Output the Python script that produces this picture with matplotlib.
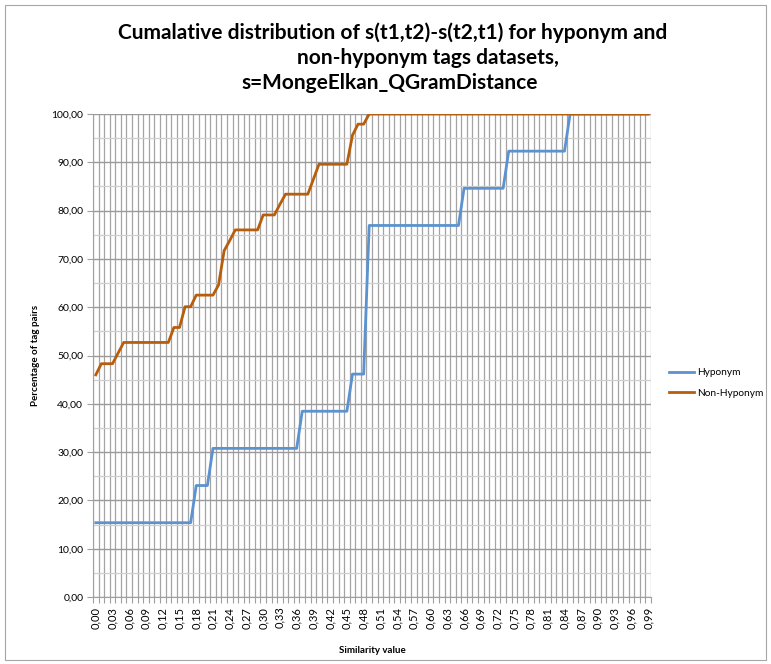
import matplotlib.pyplot as plt
from matplotlib.patches import Rectangle

plt.rcParams['font.family'] = ['Lato', 'DejaVu Sans']

# similarity categories 0,00 .. 0,99
similarity = [f"{i / 100:.2f}".replace('.', ',') for i in range(100)]

hyponym = [
    15.38, 15.38, 15.38, 15.38, 15.38, 15.38, 15.38, 15.38, 15.38, 15.38,
    15.38, 15.38, 15.38, 15.38, 15.38, 15.38, 15.38, 15.38, 23.08, 23.08,
    23.08, 30.77, 30.77, 30.77, 30.77, 30.77, 30.77, 30.77, 30.77, 30.77,
    30.77, 30.77, 30.77, 30.77, 30.77, 30.77, 30.77, 38.46, 38.46, 38.46,
    38.46, 38.46, 38.46, 38.46, 38.46, 38.46, 46.15, 46.15, 46.15, 76.92,
    76.92, 76.92, 76.92, 76.92, 76.92, 76.92, 76.92, 76.92, 76.92, 76.92,
    76.92, 76.92, 76.92, 76.92, 76.92, 76.92, 84.62, 84.62, 84.62, 84.62,
    84.62, 84.62, 84.62, 84.62, 92.31, 92.31, 92.31, 92.31, 92.31, 92.31,
    92.31, 92.31, 92.31, 92.31, 92.31, 100.0, 100.0, 100.0, 100.0, 100.0,
    100.0, 100.0, 100.0, 100.0, 100.0, 100.0, 100.0, 100.0, 100.0, 100.0,
]

non_hyponym = [
    46.0, 48.3, 48.3, 48.3, 50.5, 52.7, 52.7, 52.7, 52.7, 52.7,
    52.7, 52.7, 52.7, 52.7, 55.8, 55.8, 60.1, 60.1, 62.5, 62.5,
    62.5, 62.5, 64.6, 71.7, 73.8, 76.0, 76.0, 76.0, 76.0, 76.0,
    79.1, 79.1, 79.1, 81.3, 83.4, 83.4, 83.4, 83.4, 83.4, 86.5,
    89.6, 89.6, 89.6, 89.6, 89.6, 89.6, 95.6, 97.9, 97.9, 100.0,
    100.0, 100.0, 100.0, 100.0, 100.0, 100.0, 100.0, 100.0, 100.0, 100.0,
    100.0, 100.0, 100.0, 100.0, 100.0, 100.0, 100.0, 100.0, 100.0, 100.0,
    100.0, 100.0, 100.0, 100.0, 100.0, 100.0, 100.0, 100.0, 100.0, 100.0,
    100.0, 100.0, 100.0, 100.0, 100.0, 100.0, 100.0, 100.0, 100.0, 100.0,
    100.0, 100.0, 100.0, 100.0, 100.0, 100.0, 100.0, 100.0, 100.0, 100.0,
]

y_ticks = [0, 10, 20, 30, 40, 50, 60, 70, 80, 90, 100]

fig = plt.figure(figsize=(7.71, 6.64), dpi=100)
fig.patches.append(Rectangle((0.006, 0.006), 0.988, 0.986, transform=fig.transFigure,
                             fill=False, edgecolor='#a6a6a6', linewidth=0.8))

ax = fig.add_axes([93 / 771, 67 / 664, 558 / 771, 483 / 664])
x = list(range(len(similarity)))

# grid: one vertical line per category boundary, 10s major and 5s minor horizontally
for b in range(len(similarity) + 1):
    ax.axvline(b - 0.5, color='#a4a4a4', linewidth=0.9, zorder=0)
for v in range(5, 100, 10):
    ax.axhline(v, color='#cfcfcf', linewidth=0.9, zorder=0)
for v in y_ticks:
    ax.axhline(v, color='#9a9a9a', linewidth=1.0, zorder=0)

ax.plot(x, hyponym, color='#5b92cf', linewidth=2.0, label='Hyponym', zorder=3)
ax.plot(x, non_hyponym, color='#b75d0b', linewidth=2.0, label='Non-Hyponym', zorder=3)

ax.set_xlim(-0.5, len(similarity) - 0.5)
ax.set_ylim(0, 100)
ax.set_yticks(y_ticks)
ax.set_yticklabels([f"{v:.2f}".replace('.', ',') for v in y_ticks], fontsize=7.5)
ax.set_xticks(x[::3])
ax.set_xticklabels(similarity[::3], rotation=90, fontsize=8)
ax.set_xticks([b - 0.5 for b in range(len(similarity) + 1)], minor=True)
ax.tick_params(axis='x', which='major', length=0, pad=7)
ax.tick_params(axis='x', which='minor', length=4, color='#a0a0a0', width=0.8)
ax.tick_params(axis='y', length=4, color='#a0a0a0', width=0.8, pad=3)
for side in ['top', 'right']:
    ax.spines[side].set_visible(False)
ax.spines['left'].set_color('#a0a0a0')
ax.spines['bottom'].set_color('#a0a0a0')

ax.set_xlabel('Similarity value', fontsize=7, fontweight='bold', labelpad=12)
ax.set_ylabel('Percentage of tag pairs', fontsize=7, fontweight='bold', labelpad=8)

title_lines = ['Cumalative distribution of s(t1,t2)-s(t2,t1) for hyponym and',
               'non-hyponym tags datasets,',
               's=MongeElkan_QGramDistance']
title_x = [393, 428, 390]
title_y = [33, 58, 83]
for line, tx, ty in zip(title_lines, title_x, title_y):
    fig.text(tx / 771, 1 - ty / 664, line, ha='center', va='center',
             fontsize=15, fontweight='bold')

fig.legend(loc='center left', bbox_to_anchor=(669 / 771, 1 - 383 / 664), frameon=False,
           borderpad=0, borderaxespad=0, fontsize=7.3, handlelength=2.5,
           handletextpad=0.25, labelspacing=1.1)

fig.savefig('out.png', dpi=100)
